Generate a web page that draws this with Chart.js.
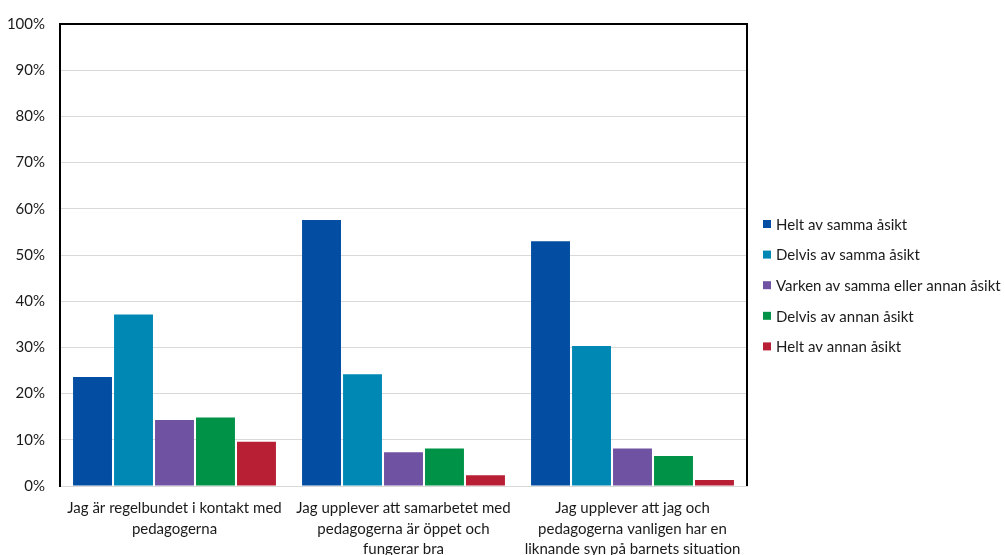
<!DOCTYPE html>
<html><head><meta charset="utf-8">
<script src="https://cdn.jsdelivr.net/npm/chart.js@4/dist/chart.umd.min.js"></script>
<style>html,body{margin:0;padding:0;background:#fff}#wrap{width:1005px;height:555px;position:relative}</style>
</head><body><div id="wrap"><canvas id="c"></canvas></div>
<script>
const categories = [
  ["Jag är regelbundet i kontakt med", "pedagogerna"],
  ["Jag upplever att samarbetet med", "pedagogerna är öppet och", "fungerar bra"],
  ["Jag upplever att jag och", "pedagogerna vanligen har en", "liknande syn på barnets situation"]
];
const seriesNames = ["Helt av samma åsikt","Delvis av samma åsikt","Varken av samma eller annan åsikt","Delvis av annan åsikt","Helt av annan åsikt"];
const heltSamma   = [23.6, 57.6, 53.0];
const delvisSamma = [37.1, 24.2, 30.3];
const varken      = [14.3, 7.3, 8.1];
const delvisAnnan = [14.8, 8.1, 6.5];
const heltAnnan   = [9.6, 2.3, 1.3];
const yTicks = [0,10,20,30,40,50,60,70,80,90,100];

const colors = ["#034EA2","#0088B5","#6F52A1","#009347","#B81F34"];
const seriesValues = [heltSamma, delvisSamma, varken, delvisAnnan, heltAnnan];
const FONT = "Lato, 'Open Sans', sans-serif";

const frame = {
  id: 'frame',
  afterDraw(chart) {
    const {ctx, chartArea: a} = chart;
    ctx.save();
    ctx.strokeStyle = '#000'; ctx.lineWidth = 2;
    ctx.beginPath();
    ctx.moveTo(a.left, a.bottom); ctx.lineTo(a.left, a.top); ctx.lineTo(a.right, a.top); ctx.lineTo(a.right, a.bottom);
    ctx.stroke();
    // legend
    ctx.font = "15px " + FONT;
    ctx.textBaseline = 'middle';
    chart.data.datasets.forEach((ds, i) => {
      const y = 224 + i * 30.6;
      ctx.fillStyle = ds.backgroundColor;
      ctx.fillRect(763, y - 4, 8, 8);
      ctx.fillStyle = '#1a1a1a';
      ctx.fillText(ds.label, 776, y + 1);
    });
    ctx.restore();
  }
};

new Chart(document.getElementById('c'), {
  type: 'bar',
  data: {
    labels: categories,
    datasets: seriesNames.map((n, i) => ({
      label: n, data: seriesValues[i], backgroundColor: colors[i],
      barPercentage: 0.95, categoryPercentage: 0.895
    }))
  },
  options: {
    responsive: true, maintainAspectRatio: false, animation: false,
    layout: { padding: { top: 21, right: 258, left: 0, bottom: 0 } },
    plugins: { legend: { display: false }, tooltip: { enabled: false } },
    scales: {
      x: {
        grid: { display: false, drawTicks: false },
        border: { color: '#D9D9D9', width: 1 },
        ticks: { color: '#1a1a1a', font: { family: FONT, size: 15, lineHeight: 1.37 }, maxRotation: 0, autoSkip: false, padding: 12 },
        afterFit(s) { s.height = 69; }
      },
      y: {
        min: 0, max: 100,
        afterBuildTicks(s) { s.ticks = yTicks.map(v => ({ value: v })); },
        grid: { color: '#D9D9D9', lineWidth: 1, drawTicks: false },
        border: { color: '#000', width: 2 },
        ticks: { color: '#1a1a1a', font: { family: FONT, size: 15 }, padding: 15, callback: v => v + '%' },
        afterFit(s) { s.width = 60; }
      }
    }
  },
  plugins: [frame]
});
</script></body></html>
